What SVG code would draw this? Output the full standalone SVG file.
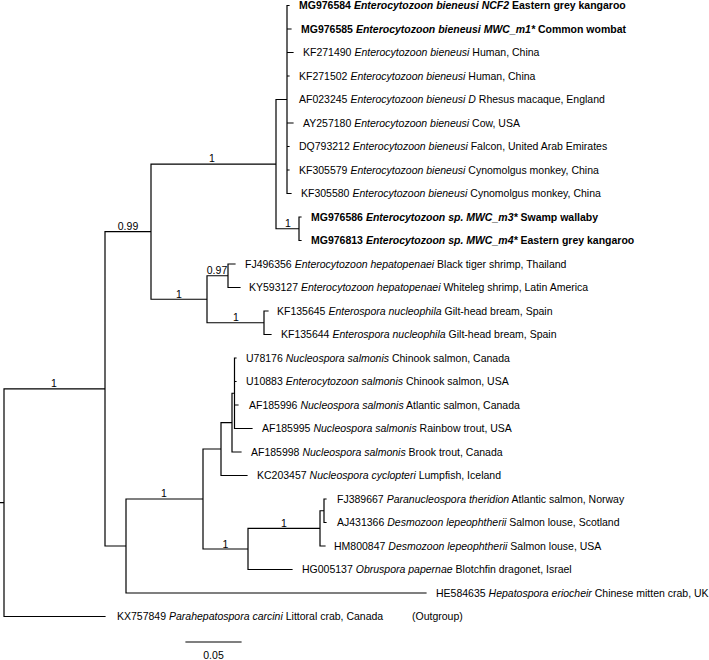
<svg xmlns="http://www.w3.org/2000/svg" width="709" height="660" viewBox="0 0 709 660">
<style>
.br{stroke:#000;stroke-width:1.2;fill:none;stroke-linecap:square}
text{font-family:"Liberation Sans",Arial,Helvetica,sans-serif;font-size:10.5px;fill:#000}
.b{font-weight:bold}
.i{font-style:italic}
.s{text-anchor:middle}
</style>
<rect width="709" height="660" fill="#fff"/>
<g id="connectors">
<path class="br" d="
M0,502.7H4 M4,388.9V616.5 M4,388.9H105 M4,616.5H105
M105,231.7V546 M105,231.7H151 M105,546H126
M151,164.1V299.25 M151,164.1H276 M151,299.25H207
M276,99.5V228.75 M276,99.5H287 M276,228.75H299
M287,5.5V193.5 M287,5.5H289 M287,29H291 M287,52.5H293 M287,76H289 M287,123H293 M287,146.5H289 M287,170H289 M287,193.5H291
M299,217V240.5 M299,217H301 M299,240.5H301
M207,275.75V322.75 M207,275.75H228 M207,322.75H264
M228,264V287.5 M228,264H235 M228,287.5H240
M264,311V334.5 M264,311H268 M264,334.5H271
M126,499V593 M126,499H203 M126,593H426
M203,449V549 M203,449H221 M203,549H248
M221,422.6V475.5 M221,422.6H232 M221,475.5H247
M232,393.25V452 M232,393.25H234.5 M232,452H241
M234.5,358V428.5 M234.5,358H236 M234.5,381.5H236 M234.5,405H238 M234.5,428.5H252
M248,528.4V569.5 M248,528.4H320 M248,569.5H292
M320,510.75V546 M320,510.75H324 M320,546H325
M324,499V522.5 M324,499H326 M324,522.5H326
"/>
</g>
<g id="support">
<text class="s" x="54" y="387">1</text>
<text class="s" x="128" y="229.5">0.99</text>
<text class="s" x="212" y="162">1</text>
<text class="s" x="288" y="227">1</text>
<text class="s" x="179" y="297.5">1</text>
<text class="s" x="217" y="274">0.97</text>
<text class="s" x="236" y="321">1</text>
<text class="s" x="164" y="497">1</text>
<text class="s" x="225.5" y="547.5">1</text>
<text class="s" x="284" y="527">1</text>
</g>
<g id="MG976584"><text class="b" x="299" y="9.3">MG976584 <tspan class="i">Enterocytozoon bieneusi NCF2</tspan> Eastern grey kangaroo</text></g>
<g id="MG976585"><text class="b" x="301" y="32.8">MG976585 <tspan class="i">Enterocytozoon bieneusi MWC_m1*</tspan> Common wombat</text></g>
<g id="KF271490"><text x="303" y="56.3">KF271490 <tspan class="i">Enterocytozoon bieneusi</tspan> Human, China</text></g>
<g id="KF271502"><text x="299" y="79.8">KF271502 <tspan class="i">Enterocytozoon bieneusi</tspan> Human, China</text></g>
<g id="AF023245"><text x="299" y="103.3">AF023245 <tspan class="i">Enterocytozoon bieneusi D</tspan> Rhesus macaque, England</text></g>
<g id="AY257180"><text x="303" y="126.8">AY257180 <tspan class="i">Enterocytozoon bieneusi</tspan> Cow, USA</text></g>
<g id="DQ793212"><text x="299" y="150.3">DQ793212 <tspan class="i">Enterocytozoon bieneusi</tspan> Falcon, United Arab Emirates</text></g>
<g id="KF305579"><text x="299" y="173.8">KF305579 <tspan class="i">Enterocytozoon bieneusi</tspan> Cynomolgus monkey, China</text></g>
<g id="KF305580"><text x="301" y="197.3">KF305580 <tspan class="i">Enterocytozoon bieneusi</tspan> Cynomolgus monkey, China</text></g>
<g id="MG976586"><text class="b" x="311" y="220.8">MG976586 <tspan class="i">Enterocytozoon sp. MWC_m3*</tspan> Swamp wallaby</text></g>
<g id="MG976813"><text class="b" x="311" y="244.3">MG976813 <tspan class="i">Enterocytozoon sp. MWC_m4*</tspan> Eastern grey kangaroo</text></g>
<g id="FJ496356"><text x="245" y="267.8">FJ496356 <tspan class="i">Enterocytozoon hepatopenaei</tspan> Black tiger shrimp, Thailand</text></g>
<g id="KY593127"><text x="249" y="291.3">KY593127 <tspan class="i">Enterocytozoon hepatopenaei</tspan> Whiteleg shrimp, Latin America</text></g>
<g id="KF135645"><text x="277" y="314.8">KF135645 <tspan class="i">Enterospora nucleophila</tspan> Gilt-head bream, Spain</text></g>
<g id="KF135644"><text x="281" y="338.3">KF135644 <tspan class="i">Enterospora nucleophila</tspan> Gilt-head bream, Spain</text></g>
<g id="U78176"><text x="246" y="361.8">U78176 <tspan class="i">Nucleospora salmonis</tspan> Chinook salmon, Canada</text></g>
<g id="U10883"><text x="246" y="385.3">U10883 <tspan class="i">Enterocytozoon salmonis</tspan> Chinook salmon, USA</text></g>
<g id="AF185996"><text x="249" y="408.8">AF185996 <tspan class="i">Nucleospora salmonis</tspan> Atlantic salmon, Canada</text></g>
<g id="AF185995"><text x="262" y="432.3">AF185995 <tspan class="i">Nucleospora salmonis</tspan> Rainbow trout, USA</text></g>
<g id="AF185998"><text x="251" y="455.8">AF185998 <tspan class="i">Nucleospora salmonis</tspan> Brook trout, Canada</text></g>
<g id="KC203457"><text x="257" y="479.3">KC203457 <tspan class="i">Nucleospora cyclopteri</tspan> Lumpfish, Iceland</text></g>
<g id="FJ389667"><text x="337" y="502.8">FJ389667 <tspan class="i">Paranucleospora theridion</tspan> Atlantic salmon, Norway</text></g>
<g id="AJ431366"><text x="337" y="526.3">AJ431366 <tspan class="i">Desmozoon lepeophtherii</tspan> Salmon louse, Scotland</text></g>
<g id="HM800847"><text x="334" y="549.8">HM800847 <tspan class="i">Desmozoon lepeophtherii</tspan> Salmon louse, USA</text></g>
<g id="HG005137"><text x="302" y="573.3">HG005137 <tspan class="i">Obruspora papernae</tspan> Blotchfin dragonet, Israel</text></g>
<g id="HE584635"><text x="436" y="596.8">HE584635 <tspan class="i">Hepatospora eriocheir</tspan> Chinese mitten crab, UK</text></g>
<g id="KX757849"><text x="117" y="620.3">KX757849 <tspan class="i">Parahepatospora carcini</tspan> Littoral crab, Canada</text><text x="412" y="620.3">(Outgroup)</text></g>
<g id="scalebar">
<path class="br" d="M186,642H241"/>
<text class="s" x="213.5" y="659">0.05</text>
</g>
</svg>
